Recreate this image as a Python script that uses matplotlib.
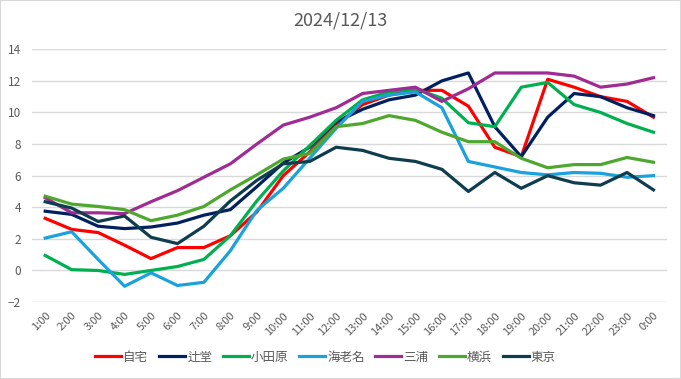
import numpy as np
import matplotlib.pyplot as plt
from matplotlib.patches import Rectangle

plt.rcParams['font.family'] = ['Noto Sans CJK JP', 'DejaVu Sans']

hours = ['1:00', '2:00', '3:00', '4:00', '5:00', '6:00', '7:00', '8:00', '9:00', '10:00',
         '11:00', '12:00', '13:00', '14:00', '15:00', '16:00', '17:00', '18:00', '19:00',
         '20:00', '21:00', '22:00', '23:00', '0:00']

jitaku = [3.3, 2.6, 2.4, 1.6, 0.75, 1.45, 1.45, 2.2, 3.7, 6.0, 7.5, 9.2,
          10.5, 11.1, 11.4, 11.4, 10.4, 7.8, 7.2, 12.1, 11.6, 11.0, 10.7, 9.7]
tsujido = [3.75, 3.55, 2.8, 2.65, 2.75, 3.0, 3.5, 3.85, 5.3, 6.8, 7.8, 9.4,
           10.2, 10.8, 11.1, 12.0, 12.5, 9.1, 7.2, 9.7, 11.2, 11.0, 10.3, 9.8]
odawara = [0.95, 0.05, 0.0, -0.25, 0.0, 0.25, 0.7, 2.2, 4.4, 6.3, 7.9, 9.5,
           10.8, 11.3, 11.5, 10.9, 9.35, 9.1, 11.6, 11.9, 10.5, 10.0, 9.3, 8.75]
ebina = [2.05, 2.45, 0.7, -1.0, -0.15, -0.95, -0.75, 1.25, 3.8, 5.2, 7.1, 9.0,
         10.7, 11.1, 11.3, 10.3, 6.9, 6.55, 6.2, 6.05, 6.2, 6.15, 5.9, 6.0]
miura = [4.6, 3.65, 3.65, 3.6, 4.35, 5.05, 5.9, 6.75, 8.0, 9.2, 9.7, 10.3,
         11.2, 11.4, 11.6, 10.7, 11.5, 12.5, 12.5, 12.5, 12.3, 11.6, 11.8, 12.2]
yokohama = [4.7, 4.2, 4.05, 3.85, 3.15, 3.5, 4.05, 5.1, 6.05, 7.05, 7.4, 9.1,
            9.3, 9.8, 9.5, 8.75, 8.15, 8.15, 7.1, 6.5, 6.7, 6.7, 7.15, 6.85]
tokyo = [4.35, 3.95, 3.1, 3.45, 2.1, 1.7, 2.8, 4.4, 5.7, 6.75, 6.9, 7.8,
         7.6, 7.1, 6.9, 6.4, 5.0, 6.2, 5.2, 6.0, 5.55, 5.4, 6.2, 5.1]

names = ['自宅', '辻堂', '小田原', '海老名', '三浦', '横浜', '東京']
series = [jitaku, tsujido, odawara, ebina, miura, yokohama, tokyo]
colors = ['#FF0000', '#002060', '#00B050', '#1BA1DC', '#A02B93', '#4EA72E', '#0E3D4E']

fig = plt.figure(figsize=(6.81, 3.79), dpi=100)
ax = fig.add_axes([0.047, 0.203, 0.932, 0.667])

x = np.arange(len(hours))
for name, vals, c in zip(names, series, colors):
    ax.plot(x, vals, color=c, lw=2.3, label=name, solid_joinstyle='round')

ax.set_xlim(-0.5, 23.5)
ax.set_ylim(-2, 14)
ax.set_yticks(range(-2, 15, 2))
ax.grid(axis='y', color='#D9D9D9', lw=1)
ax.set_axisbelow(True)
for s in ax.spines.values():
    s.set_visible(False)
ax.tick_params(length=0, colors='#595959', labelsize=8.5)
ax.set_xticks(x)
ax.set_xticklabels(hours, rotation=45, ha='right', rotation_mode='anchor', fontsize=8)
ax.tick_params(axis='y', pad=8)
ax.tick_params(axis='x', pad=6)

fig.text(0.5, 0.945, '2024/12/13', ha='center', va='center', fontsize=13, color='#595959')

fig.legend(loc='center', bbox_to_anchor=(0.478, 0.058), ncol=7, frameon=False,
           fontsize=9, handlelength=2.1, columnspacing=0.85, handletextpad=0.15,
           labelcolor='#595959')

fig.add_artist(Rectangle((0, 0), 1, 1, transform=fig.transFigure, fill=False,
                         edgecolor='#D9D9D9', lw=1.5))

fig.savefig('out.png', dpi=100)
